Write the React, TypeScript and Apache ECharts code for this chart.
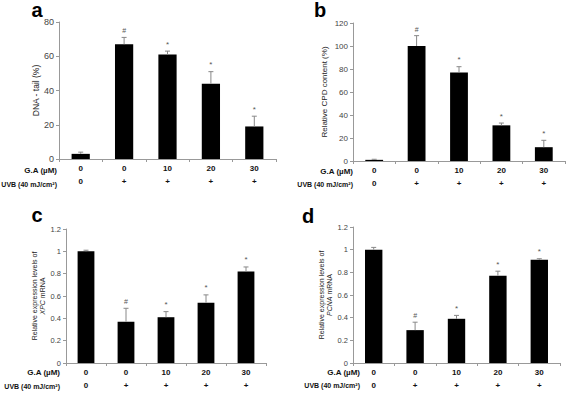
import React, { useEffect, useRef } from "react";
import * as echarts from "echarts";

// Row labels under each panel
const gaDose = ["0", "0", "10", "20", "30"];
const uvbDose = ["0", "+", "+", "+", "+"];
const sigMarks = ["", "#", "*", "*", "*"];

// Panel a: DNA tail (%)
const dnaTail = [3, 67, 61, 44, 19];
const dnaTailErr = [4, 71, 63, 51, 25];
// Panel b: Relative CPD content (%)
const cpdContent = [1, 100, 77, 31, 12];
const cpdErr = [1.5, 109, 82, 33, 18];
// Panel c: XPC mRNA
const xpcLevels = [1.0, 0.37, 0.41, 0.54, 0.82];
const xpcErr = [1.01, 0.49, 0.46, 0.61, 0.86];
// Panel d: PCNA mRNA
const pcnaLevels = [1.0, 0.29, 0.39, 0.77, 0.91];
const pcnaErr = [1.02, 0.36, 0.42, 0.81, 0.92];

const FONT = "'Liberation Sans', Arial, sans-serif";

type Panel = {
  letter: string;
  values: number[];
  errs: number[];
  max: number;
  interval: number;
  name: string;
  nameGap: number;
  nameSize: number;
  tickSize: number;
  grid: { left: number; top: number; width: number; height: number };
  letterPos: [number, number];
  headerX: number;
  headerY: [number, number];
};

const panels: Panel[] = [
  {
    letter: "a",
    values: dnaTail,
    errs: dnaTailErr,
    max: 80,
    interval: 20,
    name: "DNA - tail (%)",
    nameGap: 12,
    nameSize: 8.5,
    tickSize: 9,
    grid: { left: 59, top: 22, width: 217, height: 137 },
    letterPos: [37, 0],
    headerX: 57,
    headerY: [170, 184],
  },
  {
    letter: "b",
    values: cpdContent,
    errs: cpdErr,
    max: 120,
    interval: 20,
    name: "Relative CPD content (%)",
    nameGap: 25,
    nameSize: 8,
    tickSize: 8,
    grid: { left: 353, top: 23, width: 212, height: 138 },
    letterPos: [320, 0],
    headerX: 353,
    headerY: [171, 184],
  },
  {
    letter: "c",
    values: xpcLevels,
    errs: xpcErr,
    max: 1.2,
    interval: 0.2,
    name: "Relative expression levels of\n{i|XPC} mRNA",
    nameGap: 20,
    nameSize: 7,
    tickSize: 7.5,
    grid: { left: 66, top: 229, width: 200, height: 134 },
    letterPos: [37, 205],
    headerX: 60,
    headerY: [372, 386],
  },
  {
    letter: "d",
    values: pcnaLevels,
    errs: pcnaErr,
    max: 1.2,
    interval: 0.2,
    name: "Relative expression levels of\n{i|PCNA} mRNA",
    nameGap: 20,
    nameSize: 7,
    tickSize: 7.5,
    grid: { left: 353, top: 227, width: 207, height: 136 },
    letterPos: [308, 206],
    headerX: 360,
    headerY: [372, 385],
  },
];

function buildOption() {
  const grids: any[] = [];
  const xAxes: any[] = [];
  const yAxes: any[] = [];
  const series: any[] = [];
  const graphics: any[] = [];
  const cats = gaDose.map((_, i) => String(i));

  panels.forEach((p, k) => {
    grids.push({ ...p.grid, containLabel: false });
    xAxes.push({
      type: "category",
      gridIndex: k,
      data: cats,
      boundaryGap: true,
      axisLine: { lineStyle: { color: "#999", width: 1 } },
      axisTick: { show: true, length: 3, lineStyle: { color: "#999" } },
      axisLabel: {
        margin: 3,
        interval: 0,
        formatter: (_v: string, i: number) => `{a|${gaDose[i]}}\n{b|${uvbDose[i]}}`,
        rich: {
          a: { fontSize: 8, fontWeight: "bold", fontFamily: FONT, color: "#111", lineHeight: 13 },
          b: { fontSize: 8, fontWeight: "bold", fontFamily: FONT, color: "#111", lineHeight: 13 },
        },
      },
      splitLine: { show: false },
    });
    yAxes.push({
      type: "value",
      gridIndex: k,
      min: 0,
      max: p.max,
      interval: p.interval,
      axisLine: { show: true, lineStyle: { color: "#999", width: 1 } },
      axisTick: { show: true, length: 3, lineStyle: { color: "#999" } },
      axisLabel: {
        fontSize: p.tickSize,
        color: "#444",
        fontFamily: FONT,
        margin: 5,
        formatter: (v: number) => String(Math.round(v * 100) / 100),
      },
      splitLine: { show: false },
      name: p.name,
      nameLocation: "middle",
      nameRotate: 90,
      nameGap: p.nameGap,
      nameTextStyle: {
        fontSize: p.nameSize,
        fontFamily: FONT,
        color: "#222",
        lineHeight: 7.5,
        rich: {
          i: { fontSize: p.nameSize, fontStyle: "italic", fontFamily: FONT, color: "#222" },
        },
      },
    });
    series.push({
      type: "bar",
      xAxisIndex: k,
      yAxisIndex: k,
      data: p.values,
      barWidth: "42%",
      itemStyle: { color: "#000" },
      silent: true,
    });
    series.push({
      type: "custom",
      xAxisIndex: k,
      yAxisIndex: k,
      data: p.values.map((v, i) => [i, v, p.errs[i]]),
      encode: { x: 0, y: 2 },
      silent: true,
      z: 3,
      renderItem: (params: any, api: any) => {
        const i = api.value(0);
        const base = api.coord([i, api.value(1)]);
        const top = api.coord([i, api.value(2)]);
        const mark = sigMarks[params.dataIndex];
        const children: any[] = [
          {
            type: "line",
            shape: { x1: base[0], y1: base[1], x2: top[0], y2: top[1] },
            style: { stroke: "#888", lineWidth: 1 },
          },
          {
            type: "line",
            shape: { x1: top[0] - 2.5, y1: top[1], x2: top[0] + 2.5, y2: top[1] },
            style: { stroke: "#888", lineWidth: 1 },
          },
        ];
        if (mark) {
          children.push({
            type: "text",
            style: {
              text: mark,
              x: top[0],
              y: top[1] - 3,
              align: "center",
              verticalAlign: "bottom",
              fontSize: mark === "#" ? 7 : 8,
              fontFamily: FONT,
              fill: "#555",
            },
          });
        }
        return { type: "group", children };
      },
    });

    graphics.push({
      type: "text",
      x: p.letterPos[0],
      y: p.letterPos[1],
      style: {
        text: p.letter,
        fontSize: 20,
        fontWeight: "bold",
        fontFamily: FONT,
        fill: "#000",
        align: "center",
        verticalAlign: "top",
      },
    });
    graphics.push({
      type: "text",
      x: p.headerX,
      y: p.headerY[0],
      style: {
        text: "G.A (µM)",
        fontSize: 8,
        fontWeight: "bold",
        fontFamily: FONT,
        fill: "#111",
        align: "right",
        verticalAlign: "middle",
      },
    });
    graphics.push({
      type: "text",
      x: p.headerX,
      y: p.headerY[1],
      style: {
        text: "UVB (40 mJ/cm²)",
        fontSize: 7,
        fontWeight: "bold",
        fontFamily: FONT,
        fill: "#111",
        align: "right",
        verticalAlign: "middle",
      },
    });
  });

  return {
    animation: false,
    backgroundColor: "#fff",
    grid: grids,
    xAxis: xAxes,
    yAxis: yAxes,
    series,
    graphic: graphics,
  };
}

export default function App() {
  const ref = useRef<HTMLDivElement>(null);
  useEffect(() => {
    if (!ref.current) return;
    const chart = echarts.init(ref.current, undefined, { renderer: "svg" });
    chart.setOption(buildOption() as any);
    return () => chart.dispose();
  }, []);
  return (
    <div
      ref={ref}
      style={{ position: "fixed", left: 0, top: 0, width: 567, height: 402, background: "#fff" }}
    />
  );
}
